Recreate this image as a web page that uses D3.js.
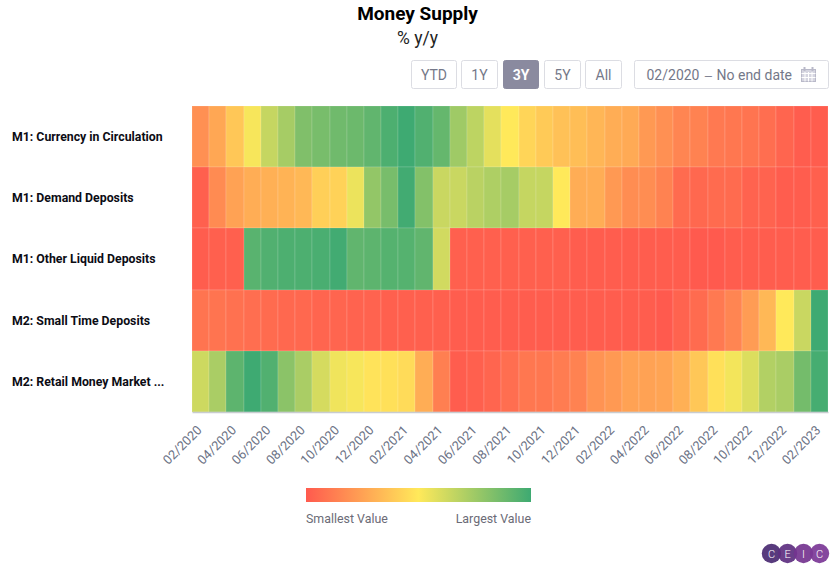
<!DOCTYPE html>
<html>
<head>
<meta charset="utf-8">
<script src="https://cdn.jsdelivr.net/npm/d3@7"></script>
<style>
  html, body { margin: 0; padding: 0; background: #fff; }
  svg { display: block; font-family: Roboto, sans-serif; }
</style>
</head>
<body>
<svg id="chart" width="839" height="568"></svg>
<script>
// Months along the x axis
var months = [
  "02/2020","03/2020","04/2020","05/2020","06/2020","07/2020","08/2020","09/2020","10/2020","11/2020","12/2020",
  "01/2021","02/2021","03/2021","04/2021","05/2021","06/2021","07/2021","08/2021","09/2021","10/2021","11/2021","12/2021",
  "01/2022","02/2022","03/2022","04/2022","05/2022","06/2022","07/2022","08/2022","09/2022","10/2022","11/2022","12/2022",
  "01/2023","02/2023"
];
var tickMonths = months.filter(function (m, i) { return i % 2 === 0; });

var seriesNames = [
  "M1: Currency in Circulation",
  "M1: Demand Deposits",
  "M1: Other Liquid Deposits",
  "M2: Small Time Deposits",
  "M2: Retail Money Market ..."
];

// Heat position of each cell, 0 = smallest, 100 = largest
var currency = [19,27,38,52,65,73,83,85,87,88,91,96,100,95,90,75,67,57,50,43,39,36,35,32,29,28,22,19,15,14,11,10,9,7,4,1,1];
var demand = [2,17,25,29,30,31,33,41,42,55,78,85,99,82,64,64,68,71,73,65,65,50,29,29,22,18,18,14,6,5,6,6,3,3,1,1,2];
var otherLiquid = [1,2,2,93,95,96,96,97,99,91,92,94,94,91,62,2,2,2,2,2,2,2,1,1,1,1,1,1,1,0,0,1,1,1,1,1,1];
var smallTime = [9,9,8,7,6,5,5,4,4,3,3,2,2,2,2,1,1,1,1,1,1,1,1,1,1,1,1,0,3,6,11,15,23,33,50,64,100];
var retailMoney = [63,72,92,100,95,80,72,61,54,52,48,47,45,29,13,1,2,4,7,10,10,12,14,20,22,25,25,26,30,38,47,53,59,70,72,86,98];
var seriesValues = [currency, demand, otherLiquid, smallTime, retailMoney];

var rangeButtons = ["YTD", "1Y", "3Y", "5Y", "All"];
var activeRange = "3Y";

var svg = d3.select("#chart");

var color = d3.scaleLinear()
  .domain([0, 50, 100])
  .range(["#ff5a4e", "#ffe95a", "#3eaa72"]);

var x = d3.scaleBand().domain(months).range([192, 828]);
var y = d3.scaleBand().domain(seriesNames).range([106, 412]);

// Title
svg.append("text").attr("x", 417.5).attr("y", 20).attr("text-anchor", "middle")
  .attr("font-size", 19).attr("font-weight", 700).attr("fill", "#000").text("Money Supply");
svg.append("text").attr("x", 417.5).attr("y", 44).attr("text-anchor", "middle")
  .attr("font-size", 17.5).attr("fill", "#222").text("% y/y");

// Range buttons
var buttonX = d3.scaleOrdinal().domain(rangeButtons).range([411, 461, 503, 544, 585]);
var buttonW = d3.scaleOrdinal().domain(rangeButtons).range([45, 36, 35, 36, 36]);
var buttons = svg.append("g").selectAll("g").data(rangeButtons).join("g")
  .attr("transform", function (d) { return "translate(" + buttonX(d) + ",60)"; });
buttons.append("rect")
  .attr("x", 0.5).attr("y", 0.5).attr("rx", 2)
  .attr("width", function (d) { return buttonW(d); }).attr("height", 28)
  .attr("fill", function (d) { return d === activeRange ? "#8a8a9f" : "#fff"; })
  .attr("stroke", function (d) { return d === activeRange ? "#8a8a9f" : "#dcdde3"; });
buttons.append("text")
  .attr("x", function (d) { return buttonW(d) / 2 + 0.5; }).attr("y", 20)
  .attr("text-anchor", "middle").attr("font-size", 14)
  .attr("font-weight", function (d) { return d === activeRange ? 700 : 400; })
  .attr("fill", function (d) { return d === activeRange ? "#fff" : "#747889"; })
  .text(function (d) { return d; });

// Date range box
var dateBox = svg.append("g").attr("transform", "translate(634,60)");
dateBox.append("rect").attr("x", 0.5).attr("y", 0.5).attr("rx", 2).attr("width", 194).attr("height", 28)
  .attr("fill", "#fff").attr("stroke", "#dcdde3");
dateBox.append("text").attr("x", 12.5).attr("y", 20).attr("font-size", 14).attr("fill", "#747889").text("02/2020");
dateBox.append("text").attr("x", 70).attr("y", 20).attr("font-size", 11).attr("fill", "#747889").text("\u2014");
dateBox.append("text").attr("x", 158).attr("y", 20).attr("text-anchor", "end").attr("font-size", 14).attr("fill", "#747889").text("No end date");
// calendar glyph
var cal = dateBox.append("g").attr("transform", "translate(167,7)").attr("fill", "none").attr("stroke", "#b9b9c9");
cal.append("rect").attr("x", 0.5).attr("y", 2.5).attr("width", 14).attr("height", 12).attr("fill", "#d5d5e0");
d3.range(1, 3).forEach(function (i) {
  cal.append("line").attr("x1", 0.5).attr("x2", 14.5).attr("y1", 2.5 + i * 4).attr("y2", 2.5 + i * 4).attr("stroke", "#fff");
});
d3.range(1, 4).forEach(function (i) {
  cal.append("line").attr("x1", 0.5 + i * 3.5).attr("x2", 0.5 + i * 3.5).attr("y1", 5).attr("y2", 14.5).attr("stroke", "#fff");
});
[3.5, 11.5].forEach(function (cx) {
  cal.append("line").attr("x1", cx).attr("x2", cx).attr("y1", 0).attr("y2", 4).attr("stroke-width", 2);
});

// Heatmap cells, snapped to whole pixels
seriesNames.forEach(function (name, r) {
  var top = Math.round(y(name));
  var bottom = Math.round(y(name) + y.bandwidth());
  svg.append("g").selectAll("rect").data(seriesValues[r]).join("rect")
    .attr("x", function (d, i) { return Math.round(x(months[i])); })
    .attr("y", top)
    .attr("width", function (d, i) { return Math.round(x(months[i]) + x.bandwidth()) - Math.round(x(months[i])); })
    .attr("height", bottom - top)
    .attr("fill", function (d) { return color(d); })
    .attr("stroke", "rgba(255,255,255,0.14)")
    .attr("stroke-width", 1);
});

// Row labels
svg.append("g").selectAll("text").data(seriesNames).join("text")
  .attr("x", 12)
  .attr("y", function (d) { return y(d) + y.bandwidth() / 2 + 4.4; })
  .attr("font-size", 12.3).attr("font-weight", 700).attr("fill", "#0c0c14")
  .text(function (d) { return d; });

// X axis
var xAxis = d3.axisBottom(x).tickValues(tickMonths).tickSize(0).tickPadding(0);
var axisG = svg.append("g").attr("transform", "translate(0,412)").call(xAxis);
axisG.select(".domain").attr("stroke", "#c8ccd0").attr("stroke-width", 1.5);
axisG.selectAll("text")
  .attr("font-family", "Roboto, sans-serif").attr("font-size", 12.8).attr("fill", "#6b7285")
  .attr("text-anchor", "end")
  .attr("dy", null).attr("y", 0)
  .attr("transform", "translate(2,19) rotate(-45)");

// Legend
var defs = svg.append("defs");
var grad = defs.append("linearGradient").attr("id", "legendGrad");
[0, 50, 100].forEach(function (v) {
  grad.append("stop").attr("offset", v + "%").attr("stop-color", color(v));
});
svg.append("rect").attr("x", 306).attr("y", 488).attr("width", 225).attr("height", 14)
  .attr("fill", "url(#legendGrad)");
svg.append("text").attr("x", 306).attr("y", 523).attr("font-size", 12.4).attr("fill", "#6b6b76").text("Smallest Value");
svg.append("text").attr("x", 531).attr("y", 523).attr("text-anchor", "end").attr("font-size", 12.4).attr("fill", "#6b6b76").text("Largest Value");

// CEIC logo
var logoLetters = ["C", "E", "I", "C"];
var logoX = d3.scalePoint().domain(d3.range(4)).range([771.5, 819.5]);
var logoColor = ["#4a2a72", "#5d2f80", "#74348f", "#7b3796"];
var logo = svg.append("g").selectAll("g").data(logoLetters).join("g")
  .attr("transform", function (d, i) { return "translate(" + logoX(i) + ",553.5)"; });
logo.append("circle").attr("r", 9.7).attr("fill", function (d, i) { return logoColor[i]; }).attr("fill-opacity", 0.92);
logo.append("text").attr("text-anchor", "middle").attr("y", 4).attr("font-size", 11).attr("font-weight", 300).attr("fill", "#fff")
  .text(function (d) { return d; });
</script>
</body>
</html>
